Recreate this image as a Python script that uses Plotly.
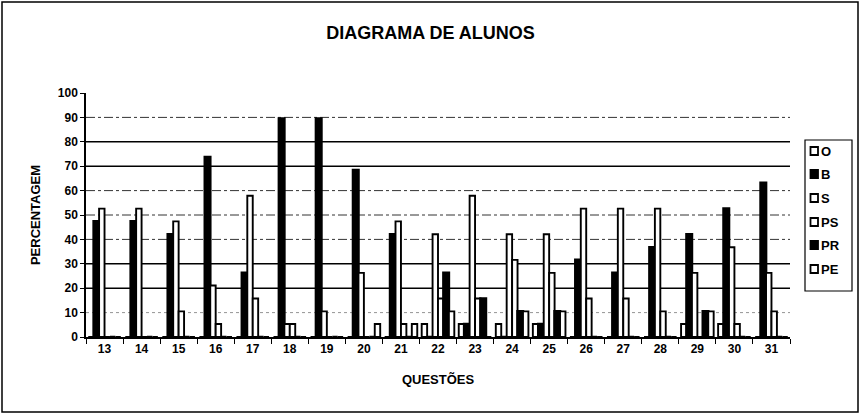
import plotly.graph_objects as go

# Questions on the x axis
questoes = ["13", "14", "15", "16", "17", "18", "19", "20", "21", "22",
            "23", "24", "25", "26", "27", "28", "29", "30", "31"]

# Percentage of students per answer grade, one list per grade
O_vals  = [0, 0, 0, 0, 0, 0, 0, 0, 0, 5.3, 5.3, 5.3, 5.3, 0, 0, 0, 5.3, 5.3, 0]
B_vals  = [47.4, 47.4, 42.1, 73.7, 26.3, 89.5, 89.5, 68.4, 42.1, 0, 5.3, 0, 5.3,
           31.6, 26.3, 36.8, 42.1, 52.6, 63.2]
S_vals  = [52.6, 52.6, 47.4, 21.1, 57.9, 5.3, 10.5, 26.3, 47.4, 42.1, 57.9, 42.1,
           42.1, 52.6, 52.6, 52.6, 26.3, 36.8, 26.3]
PS_vals = [0, 0, 10.5, 5.3, 15.8, 5.3, 0, 0, 5.3, 15.8, 15.8, 31.6, 26.3, 15.8,
           15.8, 10.5, 0, 5.3, 10.5]
PR_vals = [0, 0, 0, 0, 0, 0, 0, 0, 0, 26.3, 15.8, 10.5, 10.5, 0, 0, 0, 10.5, 0, 0]
PE_vals = [0, 0, 0, 0, 0, 0, 0, 5.3, 5.3, 10.5, 0, 10.5, 10.5, 0, 0, 0, 10.5, 0, 0]

series_names = ["O", "B", "S", "PS", "PR", "PE"]
series_vals = [O_vals, B_vals, S_vals, PS_vals, PR_vals, PE_vals]
series_fill = ["white", "black", "white", "white", "black", "white"]

y_ticks = list(range(0, 101, 10))

FONT = "Liberation Sans, Arial, sans-serif"

# plot-area geometry in pixels
W, H = 861, 419
L, R, T, B = 86, 71, 93, 82
pw, ph = W - L - R, H - T - B


def px_x(x):
    return (x - L) / pw


def px_y(y):
    return (H - B - y) / ph


fig = go.Figure()
for name, vals, fill in zip(series_names, series_vals, series_fill):
    lw = 2.6 if fill == "black" else 1.9
    fig.add_trace(go.Bar(
        name=name, x=questoes, y=vals, showlegend=False,
        marker=dict(color=fill, line=dict(color="black", width=lw)),
    ))

# horizontal reference lines in mixed styles
grid_style = {10: ("dot", 0.8, "#777"), 20: ("solid", 1.6, "black"),
              30: ("solid", 1.6, "black"), 40: ("dashdot", 1, "#333"),
              50: ("dashdot", 1, "#333"), 60: ("dashdot", 1, "#333"),
              70: ("solid", 1.6, "black"), 80: ("solid", 1.6, "black"),
              90: ("dashdot", 1, "#333")}
shapes = []
for v, (dash, w, c) in grid_style.items():
    shapes.append(dict(type="line", xref="paper", yref="y", x0=0, x1=1, y0=v, y1=v,
                       line=dict(color=c, width=w, dash=dash), layer="below"))

# outer chart frame
shapes.append(dict(type="rect", xref="paper", yref="paper",
                   x0=px_x(2), x1=px_x(858), y0=px_y(412), y1=px_y(2),
                   line=dict(color="black", width=1.5), layer="below"))

# legend box with square keys, drawn by hand to keep it narrow
annotations = []
shapes.append(dict(type="rect", xref="paper", yref="paper",
                   x0=px_x(805), x1=px_x(852), y0=px_y(291), y1=px_y(140),
                   line=dict(color="black", width=1.2), fillcolor="white"))
leg_y = [151, 174, 198, 222, 245, 269]
for name, fill, yy in zip(series_names, series_fill, leg_y):
    shapes.append(dict(type="rect", xref="paper", yref="paper",
                       x0=px_x(810.5), x1=px_x(818), y0=px_y(yy + 4), y1=px_y(yy - 4),
                       line=dict(color="black", width=1.8), fillcolor=fill))
    annotations.append(dict(xref="paper", yref="paper", x=px_x(819), y=px_y(yy),
                            xanchor="left", yanchor="middle", showarrow=False,
                            text="<b>%s</b>" % name,
                            font=dict(family=FONT, size=13, color="black")))

fig.update_layout(
    width=W, height=H,
    margin=dict(l=L, r=R, t=T, b=B, pad=0),
    paper_bgcolor="white", plot_bgcolor="white",
    barmode="group", bargap=0.12, bargroupgap=0,
    font=dict(family=FONT, size=12, color="black"),
    title=dict(text="<b>DIAGRAMA DE ALUNOS</b>", x=0.5, xanchor="center",
               y=1 - 33 / H, yanchor="middle",
               font=dict(family=FONT, size=18, color="black")),
    xaxis=dict(type="category", showgrid=False, showline=True, linecolor="black",
               linewidth=1.5, ticks="outside", tickson="boundaries", ticklen=5,
               tickcolor="black", tickwidth=1.2,
               tickfont=dict(family=FONT, size=12, color="black", weight="bold"),
               title=dict(text="<b>QUESTÕES</b>", standoff=20,
                          font=dict(family=FONT, size=13, color="black"))),
    yaxis=dict(range=[0, 100], tickvals=y_ticks, showgrid=False, zeroline=False,
               showline=True, linecolor="black", linewidth=1.5, ticks="outside",
               ticklen=4, tickcolor="black", tickwidth=1.2,
               tickfont=dict(family=FONT, size=12, color="black", weight="bold"),
               title=dict(text="<b>PERCENTAGEM</b>", standoff=14,
                          font=dict(family=FONT, size=13, color="black"))),
    shapes=shapes,
    annotations=annotations,
    showlegend=False,
)

fig.write_html("out.html")
